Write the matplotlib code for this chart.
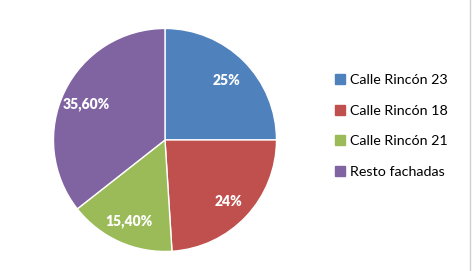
import matplotlib.pyplot as plt
import matplotlib.transforms as mtransforms
from matplotlib.lines import Line2D

# data
categories = ["Calle Rincón 23", "Calle Rincón 18", "Calle Rincón 21", "Resto fachadas"]
values = [25.0, 24.0, 15.4, 35.6]
value_labels = ["25%", "24%", "15,40%", "35,60%"]
colors = ["#4F81BD", "#C0504D", "#9BBB59", "#8064A2"]

plt.rcParams['font.family'] = ['Lato', 'DejaVu Sans']

fig = plt.figure(figsize=(4.72, 2.71), dpi=100)
ax = fig.add_axes([0.1133, 0.072, 0.4725, 0.823])

wedges, texts = ax.pie(values, labels=value_labels, colors=colors, startangle=90,
                       counterclock=False, labeldistance=0.78,
                       wedgeprops=dict(edgecolor="white", linewidth=1.0))
# nudge labels slightly down
shift = mtransforms.ScaledTranslation(0, -2 / 100, fig.dpi_scale_trans)
for t in texts:
    t.set_color("white")
    t.set_fontweight("heavy")
    t.set_fontsize(10)
    t.set_ha("center")
    t.set_va("center")
    t.set_transform(ax.transData + shift)
ax.set_aspect("equal")
ax.set_xlim(-1.0, 1.0)
ax.set_ylim(-1.0, 1.0)

# legend
handles = [Line2D([0], [0], marker="s", linestyle="none", markersize=7,
                  markerfacecolor=c, markeredgecolor=c) for c in colors]
fig.legend(handles, categories, loc="center left", bbox_to_anchor=(0.684, 0.535),
           frameon=False, fontsize=10.3, handlelength=0.6, handletextpad=0.4,
           labelspacing=1.32)

# thin border on the right side
fig.add_artist(Line2D([0.996, 0.996], [0, 1], color="#d0d0d0", linewidth=1.0))

fig.savefig("out.png", dpi=100, facecolor="white")
